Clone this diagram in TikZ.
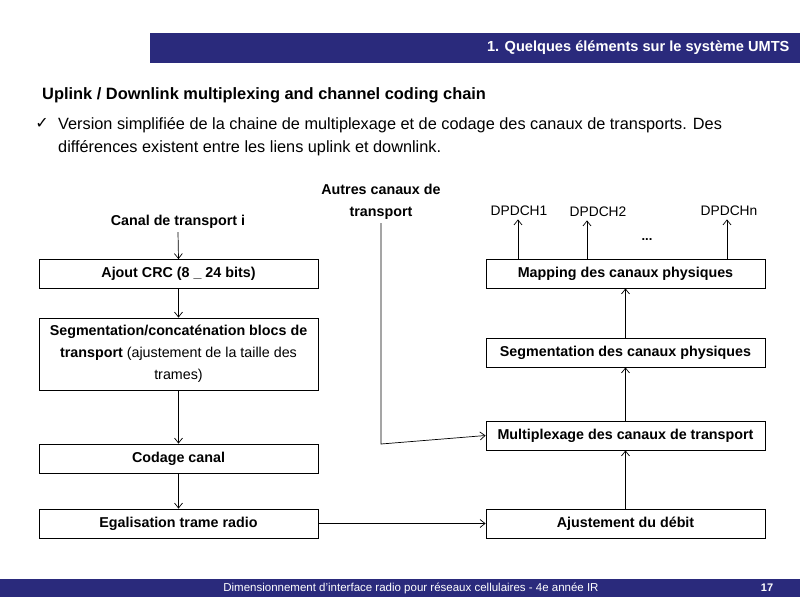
\documentclass[tikz,border=0pt]{standalone}
\usepackage{fontspec}
\setmainfont{Liberation Sans}
\newfontfamily\symfont{DejaVu Sans}
\usetikzlibrary{arrows.meta}
\definecolor{barfill}{HTML}{2A2A7C}
\definecolor{boxstroke}{HTML}{000000}
\tikzset{
  stage/.style={
    rectangle,
    draw=boxstroke,
    fill=white,
    line width=0.8pt,
    minimum width=279pt,
    minimum height=29pt,
    align=center,
    inner sep=2pt,
    font=\fontsize{14.3}{22}\selectfont\bfseries
  },
  flow/.style={
    -{Straight Barb[length=5pt,width=8pt]},
    draw=boxstroke,
    line width=0.7pt
  },
  inlabel/.style={align=center,font=\fontsize{14.3}{22}\selectfont\bfseries},
  outlabel/.style={font=\fontsize{13.8}{15}\selectfont},
  bartext/.style={text=white}
}
\begin{document}
\begin{tikzpicture}[x=1pt,y=-1pt]
  \useasboundingbox[fill=white] (0,0) rectangle (800,600);

  % Slide frame.
  \path[fill=barfill] (150,33) rectangle (800,63);
  \node[bartext,anchor=east,font=\fontsize{14.6}{16}\selectfont\bfseries] (bartitle)
    at (793,48) {1. Quelques éléments sur le système UMTS};
  \path[fill=barfill] (0,579) rectangle (800,597);
  \node[bartext,font=\fontsize{11.5}{13}\selectfont] (footer) at (411,588)
    {Dimensionnement d'interface radio pour réseaux cellulaires - 4e année IR};
  \node[bartext,font=\fontsize{11}{13}\selectfont\bfseries] (pageno) at (767,588) {17};

  \node[anchor=west,inner sep=0pt,font=\fontsize{16.4}{18}\selectfont\bfseries] (heading)
    at (42,95) {Uplink / Downlink multiplexing and channel coding chain};
  \node[font=\fontsize{16}{18}\selectfont\symfont] (tick) at (42,123) {✓};
  \node[anchor=north west,align=left,inner sep=0pt,font=\fontsize{16.3}{23}\selectfont] (intro)
    at (58,117) {Version simplifiée de la chaine de multiplexage et de codage des canaux de transports. Des\\
    différences existent entre les liens uplink et downlink.};

  % Transport channel chain.
  \node[inlabel] (canal) at (178,222) {Canal de transport i};
  \node[stage] (crc) at (178.5,274) {Ajout CRC (8 \_ 24 bits)};
  \node[stage,minimum height=72pt] (seg) at (178.5,354)
    {Segmentation/concaténation blocs de\\
    transport \mdseries(ajustement de la taille des\\\mdseries trames)};
  \node[stage] (codage) at (178.5,458.5) {Codage canal};
  \node[stage] (egal) at (178.5,523.5) {Egalisation trame radio};

  \node[stage] (ajust) at (625.5,523.5) {Ajustement du débit};
  \node[stage] (multi) at (625.5,435.5) {Multiplexage des canaux de transport};
  \node[stage] (segphy) at (625.5,352.5) {Segmentation des canaux physiques};
  \node[stage] (mapping) at (625.5,273.5) {Mapping des canaux physiques};

  \node[inlabel] (autres) at (381,202) {Autres canaux de\\transport};
  \coordinate (coin) at (381,444);

  \node[outlabel] (dp1) at (519,211) {DPDCH1};
  \node[outlabel] (dp2) at (598,212) {DPDCH2};
  \node[outlabel] (dpn) at (729,211) {DPDCHn};
  \node[font=\fontsize{13}{15}\selectfont\bfseries] (dots) at (647,240) {...};
  \coordinate (m1) at (518,259);
  \coordinate (m2) at (587,259);
  \coordinate (mn) at (727,259);

  \draw[flow] (canal.south) -- (crc.north);
  \draw[flow] (crc.south) -- (seg.north);
  \draw[flow] (seg.south) -- (codage.north);
  \draw[flow] (codage.south) -- (egal.north);
  \draw[flow] (egal.east) -- (ajust.west);
  \draw[flow] (ajust.north) -- (multi.south);
  \draw[flow] (multi.north) -- (segphy.south);
  \draw[flow] (segphy.north) -- (mapping.south);
  \draw[flow] (autres.south) -- (coin) -- (multi.west);

  % Physical channels.
  \draw[flow] (m1) -- (m1 |- dp1.south);
  \draw[flow] (m2) -- (m2 |- dp2.south);
  \draw[flow] (mn) -- (mn |- dpn.south);
\end{tikzpicture}
\end{document}
